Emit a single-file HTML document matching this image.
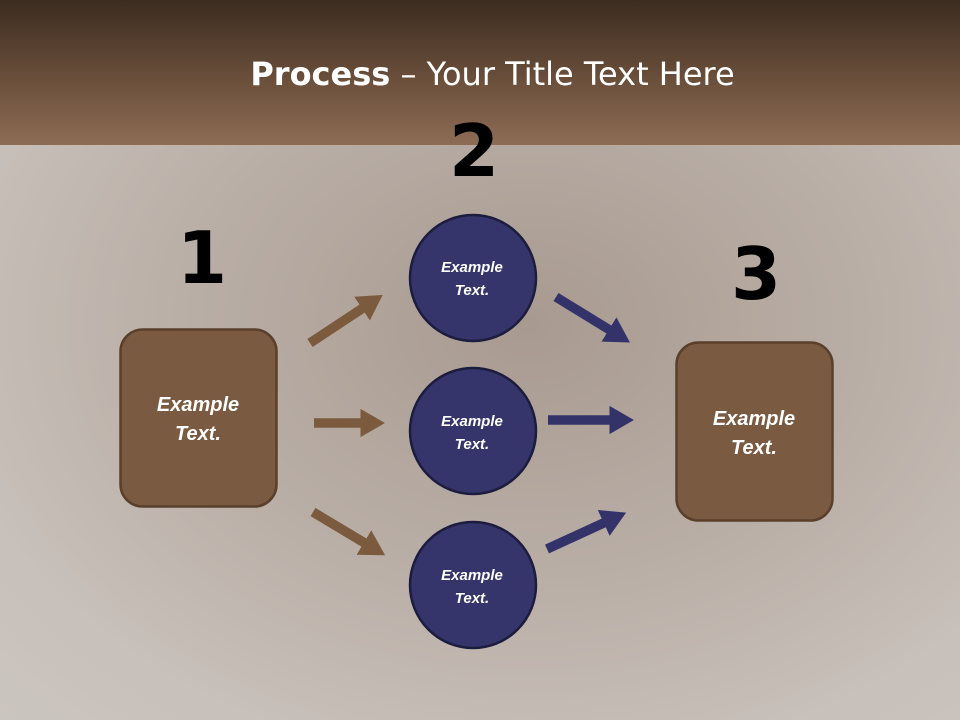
<!DOCTYPE html>
<html><head><meta charset="utf-8"><style>
body{margin:0;width:960px;height:720px;overflow:hidden;font-family:"Liberation Sans","DejaVu Sans",sans-serif;}
#bg{position:absolute;left:0;top:0;width:960px;height:720px;background:radial-gradient(ellipse at 55% 45%,#a89a90 0%,#b9aea6 45%,#c8c0ba 80%,#cbc5c0 100%);}
#hdr{position:absolute;left:0;top:0;width:960px;height:145px;background:linear-gradient(#3c2c20,#6a4f3b 55%,#8d6c54);}
#title{position:absolute;left:0;top:55px;width:985px;text-align:center;color:#fff;font-size:32px;font-family:"DejaVu Sans","Liberation Sans",sans-serif;}
.num{position:absolute;font-weight:bold;font-size:72px;color:#000;font-family:"DejaVu Sans",sans-serif;line-height:1;}
</style></head><body>
<div id="bg"></div><div id="hdr"></div>
<div id="title"><b>Process</b> – Your Title Text Here</div>
<div class="num" style="left:177px;top:222px">1</div>
<div class="num" style="left:449px;top:115px">2</div>
<div class="num" style="left:731px;top:238px">3</div>
<svg width="960" height="720" style="position:absolute;left:0;top:0">
<defs>
<marker id="hb" markerWidth="3" markerHeight="3" refX="0.5" refY="1.5" orient="auto"><path d="M0,0 L2.6,1.5 L0,3Z" fill="#7b5a3e"/></marker>
<marker id="hn" markerWidth="3" markerHeight="3" refX="0.5" refY="1.5" orient="auto"><path d="M0,0 L2.6,1.5 L0,3Z" fill="#33336a"/></marker>
</defs>
<g stroke-width="9.5" fill="none">
<line x1="310" y1="343" x2="366" y2="306" stroke="#7b5a3e" marker-end="url(#hb)"/>
<line x1="314" y1="423" x2="365" y2="423" stroke="#7b5a3e" marker-end="url(#hb)"/>
<line x1="313" y1="512" x2="368" y2="545" stroke="#7b5a3e" marker-end="url(#hb)"/>
<line x1="556" y1="297" x2="613" y2="332" stroke="#33336a" marker-end="url(#hn)"/>
<line x1="548" y1="420" x2="614" y2="420" stroke="#33336a" marker-end="url(#hn)"/>
<line x1="547" y1="549" x2="608" y2="521" stroke="#33336a" marker-end="url(#hn)"/>
</g>
<rect x="120.5" y="329.5" width="156" height="177" rx="22" fill="#7a5a40" stroke="#5a3f2b" stroke-width="2.5"/>
<rect x="676.5" y="342.5" width="156" height="178" rx="22" fill="#7a5a40" stroke="#5a3f2b" stroke-width="2.5"/>
<g fill="#35356b" stroke="#1c1c3e" stroke-width="2.5">
<circle cx="473" cy="278" r="63"/><circle cx="473" cy="431" r="63"/><circle cx="473" cy="585" r="63"/>
</g>
<g fill="#fff" font-family="Liberation Sans,sans-serif" font-style="italic" font-weight="bold" text-anchor="middle">
<g font-size="20"><text x="198" y="411">Example</text><text x="198" y="440">Text.</text>
<text x="754" y="425">Example</text><text x="754" y="454">Text.</text></g>
<g font-size="15"><text x="472" y="272">Example</text><text x="472" y="295">Text.</text>
<text x="472" y="426">Example</text><text x="472" y="449">Text.</text>
<text x="472" y="580">Example</text><text x="472" y="603">Text.</text></g>
</g>
</svg>
</body></html>
